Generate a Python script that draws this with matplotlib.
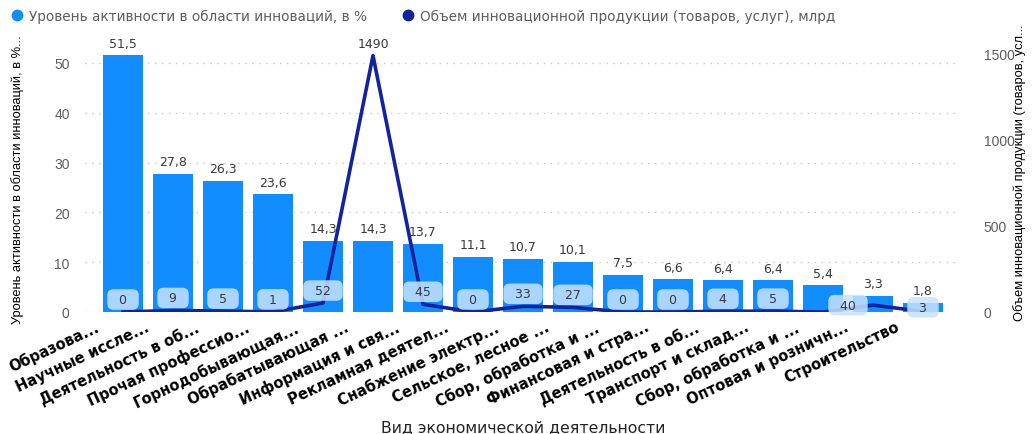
import matplotlib.pyplot as plt
from matplotlib.lines import Line2D
import matplotlib.transforms as mtransforms

plt.rcParams['font.family'] = ['DejaVu Sans']

categories = [
    'Образова...', 'Научные иссле...', 'Деятельность в об...', 'Прочая профессио...',
    'Горнодобывающая...', 'Обрабатывающая ...', 'Информация и свя...', 'Рекламная деятел...',
    'Снабжение электр...', 'Сельское, лесное ...', 'Сбор, обработка и ...',
    'Финансовая и стра...', 'Деятельность в об...', 'Транспорт и склад...',
    'Сбор, обработка и ...', 'Оптовая и розничн...', 'Строительство',
]
activity = [51.5, 27.8, 26.3, 23.6, 14.3, 14.3, 13.7, 11.1, 10.7, 10.1, 7.5, 6.6, 6.4, 6.4, 5.4, 3.3, 1.8]
volume = [0, 9, 5, 1, 52, 1490, 45, 0, 33, 27, 0, 0, 4, 5, 0, 40, 3]
volume_shown = [True] * 14 + [False, True, True]

bar_color = '#118DFF'
line_color = '#12239E'
grey = '#605E5C'
arial = ['Liberation Sans', 'DejaVu Sans']

fig = plt.figure(figsize=(10.32, 4.35), dpi=100)
ax = fig.add_axes([85 / 1032, 1 - 313 / 435, 875 / 1032, 259 / 435])
ax2 = ax.twinx()

x = list(range(len(categories)))
ax.bar(x, activity, width=0.8, color=bar_color, zorder=2)
for xi, v in zip(x, activity):
    ax.annotate(f'{v:.1f}'.replace('.', ','), (xi, v), xytext=(0, 4), textcoords='offset points',
                ha='center', va='bottom', fontsize=9, color='#3A3A3A')

ax.set_xlim(-0.76, len(categories) - 0.26)
ax.set_ylim(0, 52)
ax.set_yticks([0, 10, 20, 30, 40, 50])
ax.grid(axis='y', linestyle=(0, (1, 4)), color='#C8C8C8', linewidth=1, zorder=0)
ax.set_axisbelow(True)
for s in ax.spines.values():
    s.set_visible(False)
for s in ax2.spines.values():
    s.set_visible(False)
ax.tick_params(axis='y', length=0, labelcolor=grey, labelsize=10, pad=11)
for lbl in ax.get_yticklabels():
    lbl.set_family(arial)
ax.tick_params(axis='x', length=0, pad=5)
ax.set_xticks(x)
ax.set_xticklabels(categories, rotation=25, ha='right', va='top', rotation_mode='anchor',
                   fontsize=10.5, fontweight='bold', color='black')
shift = mtransforms.ScaledTranslation(-28 / 100, 0, fig.dpi_scale_trans)
for lbl in ax.get_xticklabels():
    lbl.set_transform(lbl.get_transform() + shift)

fig.text(523 / 1032, 1 - 428 / 435, 'Вид экономической деятельности', ha='center', va='center',
         fontsize=11.3, color='#252423')
ax.set_ylabel('Уровень активности в области инноваций, в %...', fontsize=9.3,
              color='black', family=arial)
ax.yaxis.set_label_coords(-61 / 875, 0.514)

ax2.plot(x, volume, color=line_color, linewidth=2.6, zorder=3)
ax2.set_ylim(0, 1505)
ax2.set_yticks([0, 500, 1000, 1500])
ax2.tick_params(axis='y', length=0, labelcolor=grey, labelsize=10, pad=17)
for lbl in ax2.get_yticklabels():
    lbl.set_family(arial)
ax2.set_ylabel('Объем инновационной продукции (товаров, усл...', fontsize=9.3,
               color='black', family=arial)
ax2.yaxis.set_label_coords(1 + 53 / 875, 0.54)

for xi, v, show in zip(x, volume, volume_shown):
    if not show:
        continue
    if v > 1000:
        ax2.annotate(str(v), (xi, v), xytext=(0, 9), textcoords='offset points',
                     ha='center', va='center', fontsize=9, color='#3A3A3A')
        continue
    off = (0, 9)
    if xi == 15:
        off = (-18, 0)
    elif xi == 16:
        off = (0, 3)
    ax2.annotate(f'  {v}  ', (xi, v), xytext=off, textcoords='offset points',
                 ha='center', va='center', fontsize=9, color='#3A3A3A',
                 bbox=dict(boxstyle='round,pad=0.3,rounding_size=0.5', fc='#C6E2FF',
                           ec='none', alpha=0.85),
                 zorder=4)
ax.set_zorder(ax2.get_zorder() - 1)
ax.patch.set_visible(False)

handles = [
    Line2D([], [], marker='o', linestyle='none', color=bar_color, markersize=7.5),
    Line2D([], [], marker='o', linestyle='none', color=line_color, markersize=7.5),
]
labels = ['Уровень активности в области инноваций, в %',
          'Объем инновационной продукции (товаров, услуг), млрд']
fig.legend(handles, labels, loc='upper left', bbox_to_anchor=(-0.002, 1.005), ncol=2,
           frameon=False, fontsize=9.8, labelcolor=grey, handletextpad=0.4,
           columnspacing=2.5, handlelength=1.0)

fig.savefig('out.png', dpi=100)
